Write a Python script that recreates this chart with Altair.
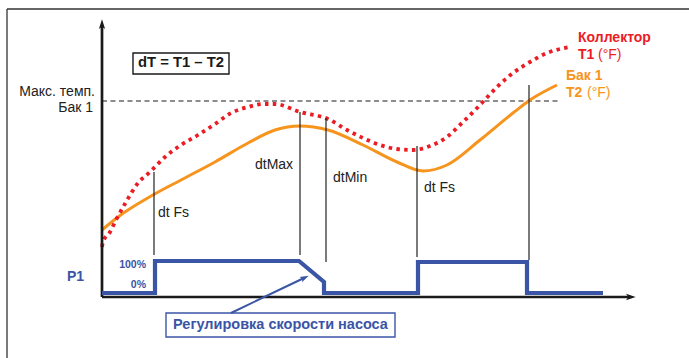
import math
import altair as alt
import pandas as pd

# ---- diagram units: t = time (0 at the axes' origin), T = temperature ----
# Collector T1 (red dotted)
t1_t = [0, 1, 8, 14, 24, 36, 48, 63, 79, 96, 113, 129, 146, 161, 173, 198, 226, 245, 261, 278, 295, 311, 328, 345, 361, 378, 395, 411, 428, 445, 468]
t1_T = [50, 55, 65, 77, 95, 114, 125, 140, 152, 162, 173, 184, 190, 193, 193, 185, 178, 167, 159, 152, 148, 147, 151, 160, 175, 192, 210, 224, 235, 244, 250]
# Tank 1 T2 (orange)
t2_t = [0, 16, 51, 79, 113, 146, 173, 198, 226, 261, 295, 321, 345, 378, 411, 428, 455]
t2_T = [67, 80, 102, 117, 135, 154, 167, 171, 167, 152, 135, 126, 132, 157, 184, 197, 212]
# Max tank temperature level
max_T = 196
max_t_end = 458
# Event markers (dt Fs, dtMax, dtMin, dt Fs, max temp)
ev_t = [52, 198, 224, 315, 427]
ev_top = [125, 185, 179, 151, 212]
ev_bot = [42, 42, 35, 40, 37]
# Pump P1 output
p1_t = [0, 53, 53, 197, 222, 222, 316, 316, 425, 425, 501]
p1_v = [4, 4, 36, 36, 15, 4, 4, 35, 35, 4, 4]

# Labels
lab_black_txt = ["dt Fs", "dtMax", "dtMin", "dt Fs"]
lab_black_t = [56, 153, 231, 322]
lab_black_T = [84, 132, 119, 109]
ylab_txt = ["Макс. темп.", "Бак 1"]
ylab_t = [-7, -9]
ylab_T = [205, 189]
formula_txt = "dT = T1 – T2"
red_bold_txt = ["Коллектор", "T1"]
red_bold_t = [476, 476]
red_bold_T = [259, 242]
red_unit_t, red_unit_T = 496, 242
or_bold_txt = ["Бак 1", "T2"]
or_bold_t = [464, 464]
or_bold_T = [221, 204]
or_unit_t, or_unit_T = 485, 204
pct_txt = ["100%", "0%"]
pct_t = [44, 44]
pct_T = [32, 12]
p1_label = "P1"
speed_txt = "Регулировка скорости насоса"

# frames / boxes / arrows (diagram units)
formula_box = dict(t=31, t2=127, T=244, T2=223)
speed_box = dict(t=64, t2=293, T=-16, T2=-40)
speed_arrow = dict(t=129, T=-16, t2=202, T2=19)
y_axis = dict(t=0, T=0, t2=0, T2=272)
x_axis = dict(t=0, T=0, t2=528, T2=0)

RED = "#ec1c24"
ORANGE = "#f7941d"
BLUE = "#3a55a5"
INK = "#1a1a1a"
FONT = "Liberation Sans"

xs = alt.Scale(domain=[-102, 587], nice=False, zero=False)
ys = alt.Scale(domain=[-61, 297], nice=False, zero=False)


def X(f="t"):
    return alt.X(f"{f}:Q", scale=xs, axis=None)


def Y(f="T"):
    return alt.Y(f"{f}:Q", scale=ys, axis=None)


def seg_layer(rows, **mk):
    df = pd.DataFrame(rows)
    return alt.Chart(df).mark_rule(**mk).encode(
        x=X("t"), y=Y("T"), x2="t2:Q", y2="T2:Q")


def line_layer(ts, vs, **mk):
    df = pd.DataFrame({"t": ts, "T": vs, "i": range(len(ts))})
    return alt.Chart(df).mark_line(**mk).encode(x=X(), y=Y(), order="i:Q")


def text_layer(txts, ts, vs, **mk):
    df = pd.DataFrame({"txt": txts, "t": ts, "T": vs})
    base = dict(font=FONT, baseline="middle")
    base.update(mk)
    return alt.Chart(df).mark_text(**base).encode(x=X(), y=Y(), text="txt:N")


def box_layer(b, **mk):
    df = pd.DataFrame([b])
    return alt.Chart(df).mark_rect(**mk).encode(
        x=X("t"), x2="t2:Q", y=Y("T"), y2="T2:Q")


ARROW = "M0,-1L0.55,0.7L0,0.3L-0.55,0.7Z"


def head_layer(a, color, size):
    ang = math.degrees(math.atan2(a["t2"] - a["t"], a["T2"] - a["T"]))
    df = pd.DataFrame({"t": [a["t2"]], "T": [a["T2"]]})
    return alt.Chart(df).mark_point(
        shape=ARROW, filled=True, color=color, size=size, angle=ang % 360,
        opacity=1, strokeWidth=0).encode(x=X(), y=Y())


layers = [
    # frame of the figure
    seg_layer([dict(t=-95, T=288, t2=600, T2=288),
               dict(t=-95, T=288, t2=-95, T2=-70)], color="#333333", strokeWidth=1.3),
    # max temperature dashed level
    seg_layer([dict(t=0, T=max_T, t2=max_t_end, T2=max_T)], color=INK,
              strokeWidth=1, strokeDash=[5, 3.5]),
    # temperature curves
    line_layer(t2_t, t2_T, color=ORANGE, strokeWidth=3, interpolate="monotone"),
    line_layer(t1_t, t1_T, color=RED, strokeWidth=3.8, strokeDash=[3.5, 4.3],
               strokeCap="butt", interpolate="monotone"),
    # event markers
    seg_layer([dict(t=a, T=b, t2=a, T2=c) for a, b, c in zip(ev_t, ev_top, ev_bot)],
              color="#222222", strokeWidth=1.2),
    # axes
    seg_layer([x_axis, y_axis], color=INK, strokeWidth=2.7),
    head_layer(y_axis, INK, 130),
    head_layer(x_axis, INK, 130),
    # pump signal
    line_layer(p1_t, p1_v, color=BLUE, strokeWidth=4.2, interpolate="linear",
               strokeJoin="miter"),
    # boxes
    box_layer(formula_box, fill="white", stroke=INK, strokeWidth=1.4),
    box_layer(speed_box, fill="white", stroke=BLUE, strokeWidth=1.4),
    seg_layer([speed_arrow], color=BLUE, strokeWidth=2),
    head_layer(speed_arrow, BLUE, 110),
    # texts
    text_layer(lab_black_txt, lab_black_t, lab_black_T, align="left", fontSize=14, color="#222222"),
    text_layer(ylab_txt, ylab_t, ylab_T, align="right", fontSize=14, color="#222222"),
    text_layer([formula_txt], [(formula_box["t"] + formula_box["t2"]) / 2],
               [(formula_box["T"] + formula_box["T2"]) / 2 + 0.5],
               align="center", fontSize=14.8, fontWeight="bold", color=INK),
    text_layer(red_bold_txt, red_bold_t, red_bold_T, align="left", fontSize=14,
               fontWeight="bold", color=RED),
    text_layer(["(°F)"], [red_unit_t], [red_unit_T], align="left", fontSize=14, color=RED),
    text_layer(or_bold_txt, or_bold_t, or_bold_T, align="left", fontSize=14,
               fontWeight="bold", color=ORANGE),
    text_layer(["(°F)"], [or_unit_t], [or_unit_T], align="left", fontSize=14, color=ORANGE),
    text_layer(pct_txt, pct_t, pct_T, align="right", fontSize=10.5, fontWeight="bold", color=BLUE),
    text_layer([p1_label], [-35], [20], align="left", fontSize=14, fontWeight="bold", color=BLUE),
    text_layer([speed_txt], [(speed_box["t"] + speed_box["t2"]) / 2],
               [(speed_box["T"] + speed_box["T2"]) / 2],
               align="center", fontSize=14.5, fontWeight="bold", color=BLUE),
]

chart = alt.layer(*layers).properties(
    width=689, height=358, padding=0, autosize=alt.AutoSizeParams(type="none"),
    background="white",
).configure_view(stroke=None)

chart.save("out.html", embed_options={"renderer": "svg", "actions": False})
